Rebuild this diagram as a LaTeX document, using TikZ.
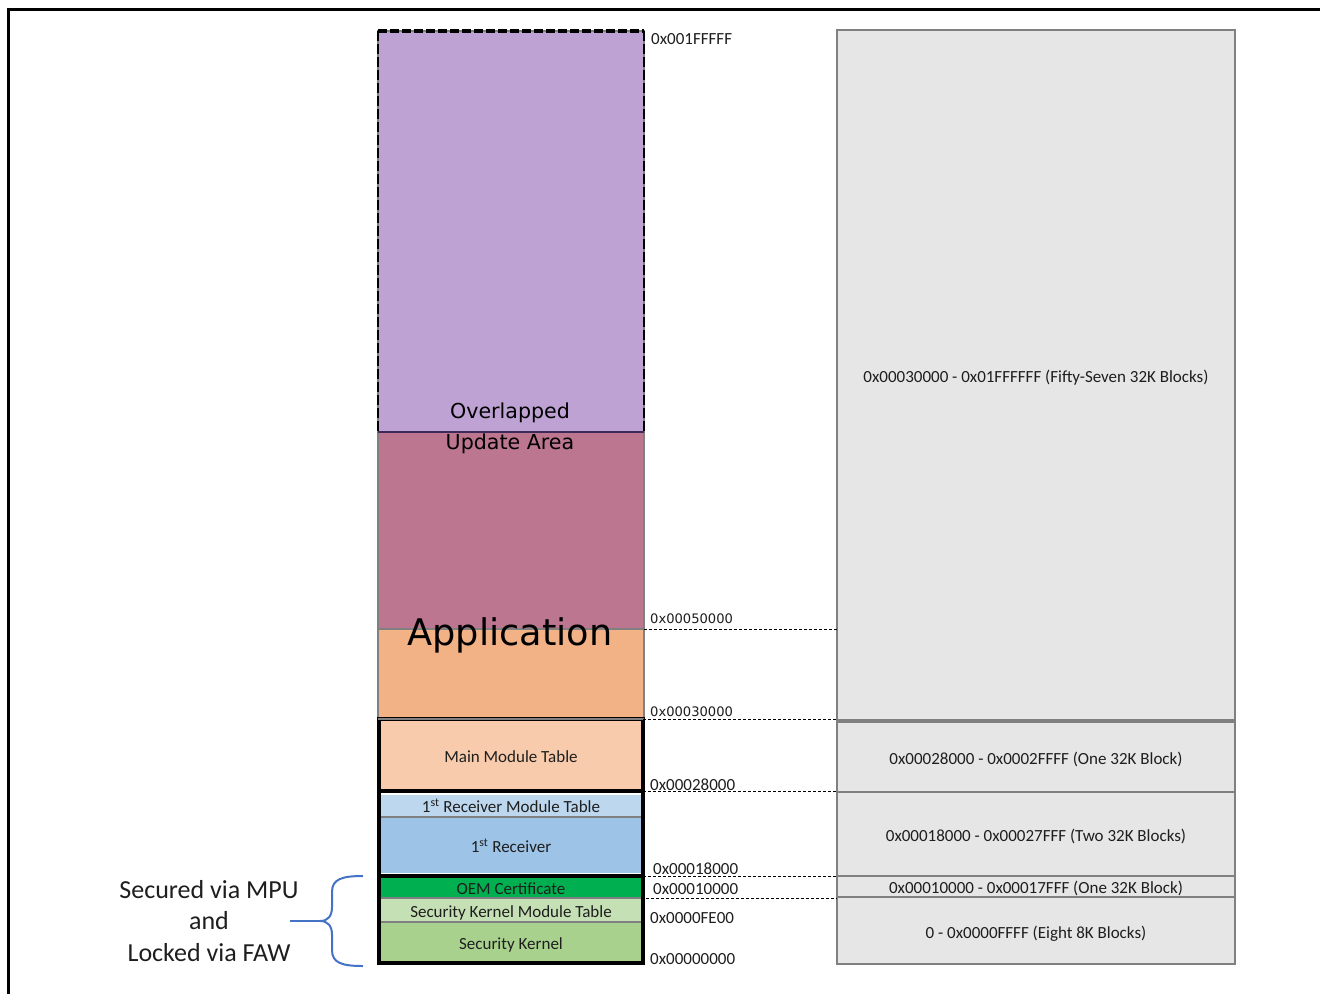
\documentclass[tikz,border=0pt]{standalone}
\usepackage{fontspec}
\setmainfont{Carlito}
\newfontfamily\dejavu{DejaVu Sans}
\definecolor{upd}{RGB}{191,162,212}
\definecolor{updline}{RGB}{62,42,88}
\definecolor{appm}{RGB}{188,118,143}
\definecolor{appo}{RGB}{243,177,134}
\definecolor{peach}{RGB}{248,203,173}
\definecolor{rxlight}{RGB}{189,215,238}
\definecolor{rxblue}{RGB}{157,195,230}
\definecolor{oemgreen}{RGB}{0,176,80}
\definecolor{sklight}{RGB}{197,224,180}
\definecolor{skgreen}{RGB}{169,209,142}
\definecolor{blkfill}{RGB}{230,230,230}
\definecolor{cellgray}{RGB}{128,128,128}
\definecolor{bracecol}{RGB}{68,114,196}
\definecolor{txt}{RGB}{30,30,30}
\begin{document}
\begin{tikzpicture}[x=1pt,y=-1pt,
  lbl/.style={font=\fontsize{17}{19}\selectfont, text=txt},
  low/.style={text height=15pt, text depth=0pt},
  cell/.style={inner sep=0pt, outer sep=0pt, anchor=north, draw=cellgray, line width=1.3pt, lbl},
  frame/.style={inner sep=0pt, outer sep=0pt, anchor=north, draw=black, line width=4pt, minimum width=264pt, lbl},
  block/.style={inner sep=0pt, outer sep=0pt, anchor=north, fill=blkfill, draw=cellgray, line width=2pt, minimum width=398pt, lbl, low},
  addr/.style={anchor=west, inner sep=0pt, yshift=-1pt, lbl},
  addrdv/.style={anchor=west, inner sep=0pt, yshift=-1pt, font=\dejavu\fontsize{13.1}{15}\selectfont, text=txt},
  addrline/.style={draw=black, line width=0.8pt, dash pattern=on 3pt off 2pt},
  big/.style={font=\dejavu\fontsize{20.6}{31}\selectfont, align=center, inner sep=0pt}]
\useasboundingbox (0,0) rectangle (1320,994);

% page frame
\draw[line width=3pt] (8,994) -- (8,9) -- (1320,9);

% ---------- flash layout column ----------
\node[cell, fill=upd, minimum width=266pt, minimum height=401pt] (upd) at (511,31) {};
\node[cell, fill=appm, minimum width=266pt, minimum height=197pt] (appm) at (511,432) {};
\node[cell, fill=appo, minimum width=266pt, minimum height=90pt] (appo) at (511,629) {};

% dashed outline of the overlapped update area
\draw[line width=4.5pt, dash pattern=on 9pt off 3pt] (upd.north west) -- (upd.north east);
\draw[line width=2pt, dash pattern=on 10pt off 3pt] (upd.north west) -- (upd.south west);
\draw[line width=2pt, dash pattern=on 10pt off 3pt] (upd.north east) -- (upd.south east);
\draw[line width=2.5pt, updline] (appm.north west) -- (appm.north east);

% main module table
\node[frame, fill=peach, minimum height=72pt, low] (mmt) at (511,719) {Main Module Table};
\draw[cellgray, line width=2pt] ([xshift=-1pt]mmt.north west) -- ([xshift=1pt]mmt.north east);

% receiver group
\node[cell, draw=none, fill=rxlight, minimum width=260pt, minimum height=22pt] (rxmt) at (511,795) {1\textsuperscript{st} Receiver Module Table};
\node[cell, draw=none, fill=rxblue, minimum width=260pt, minimum height=56pt, text height=15pt, text depth=0pt] (rx) at (511,817) {1\textsuperscript{st} Receiver};
\draw[cellgray, line width=1.5pt] (rx.north west) -- (rx.north east);
\node[frame, minimum height=85pt] (rxgrp) at (511,791) {};

% security kernel group
\node[cell, draw=none, fill=oemgreen, minimum width=260pt, minimum height=20pt, text height=13pt, text depth=0pt] (oem) at (511,878) {OEM Certificate};
\node[cell, draw=none, fill=sklight, minimum width=260pt, minimum height=24pt, low] (skmt) at (511,898) {Security Kernel Module Table};
\node[cell, draw=none, fill=skgreen, minimum width=260pt, minimum height=39pt, low] (sk) at (511,922) {Security Kernel};
\draw[cellgray, line width=1.5pt] (skmt.north west) -- (skmt.north east);
\draw[cellgray, line width=1.5pt] (sk.north west) -- (sk.north east);
\node[frame, minimum height=87pt] (secgrp) at (511,876) {};

% region titles
\node[big] (updtitle) at (510,428) {Overlapped\\Update Area};
\node[font=\dejavu\fontsize{36.7}{40}\selectfont, inner sep=0pt] (apptitle) at (510,635) {Application};

% ---------- erase blocks column ----------
\node[block, minimum height=690pt] (b1) at (1036,30) {0x00030000 - 0x01FFFFFF (Fifty-Seven 32K Blocks)};
\node[block, minimum height=70pt] (b2) at (1036,722) {0x00028000 - 0x0002FFFF (One 32K Block)};
\node[block, minimum height=84pt] (b3) at (1036,792) {0x00018000 - 0x00027FFF (Two 32K Blocks)};
\node[block, minimum height=21pt, text height=14pt] (b4) at (1036,876) {0x00010000 - 0x00017FFF (One 32K Block)};
\node[block, minimum height=67pt] (b5) at (1036,897) {0 - 0x0000FFFF (Eight 8K Blocks)};

% ---------- address boundaries ----------
\draw[addrline] (appo.north east) -- (appo.north east -| b1.west);
\draw[addrline] (mmt.north east) -- (mmt.north east -| b1.west);
\draw[addrline] (rxgrp.north east) -- (rxgrp.north east -| b2.west);
\draw[addrline] (secgrp.north east) -- (secgrp.north east -| b3.west);
\draw[addrline] (skmt.north east) -- (skmt.north east -| b4.west);

\node[addr] (a1) at (651,38) {0x001FFFFF};
\node[addrdv] (a2) at (650,618) {0x00050000};
\node[addrdv] (a3) at (650,711) {0x00030000};
\node[addr] (a4) at (650,784) {0x00028000};
\node[addr] (a5) at (653,868) {0x00018000};
\node[addr] (a6) at (653,888) {0x00010000};
\node[addr] (a7) at (650,917) {0x0000FE00};
\node[addr] (a8) at (650,958) {0x00000000};

% ---------- protected region note ----------
\draw[bracecol, line width=2pt]
  (363,876) .. controls (342,876) and (332,879) .. (332,892) -- (332,907)
  .. controls (332,916) and (328,921) .. (320,921)
  .. controls (328,921) and (332,926) .. (332,935) -- (332,950)
  .. controls (332,963) and (342,966) .. (363,966);
\draw[bracecol, line width=2pt] (320,921) -- (290,921);
\node[align=center, font=\fontsize{26}{31.5}\selectfont, text=txt, inner sep=0pt] (secnote) at (209,921) {Secured via MPU\\and\\Locked via FAW};
\end{tikzpicture}
\end{document}
